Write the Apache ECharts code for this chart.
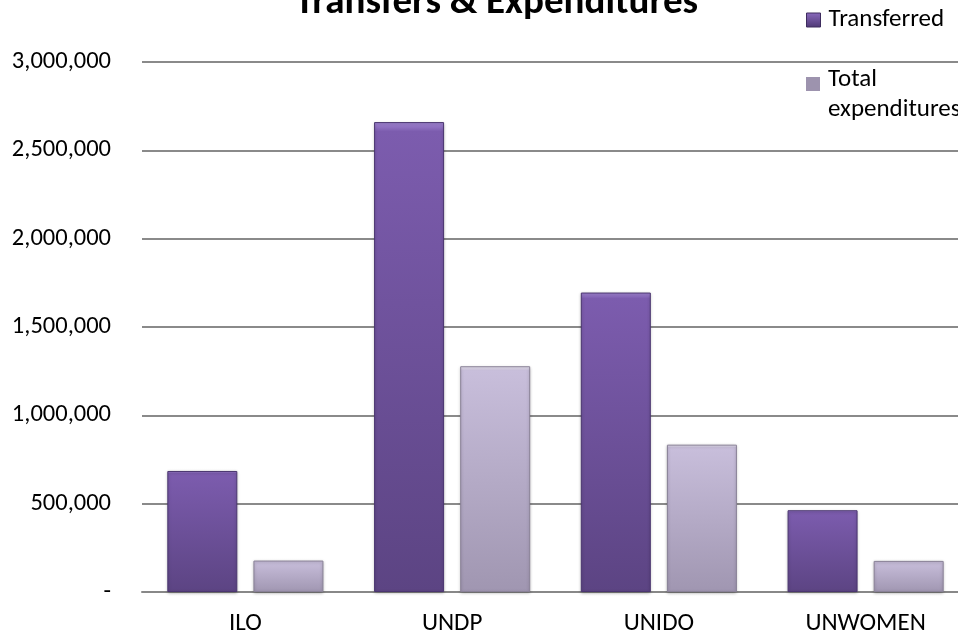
<!DOCTYPE html>
<html>
<head>
<meta charset="utf-8">
<script src="https://cdn.jsdelivr.net/npm/echarts@6/dist/echarts.min.js"></script>
<style>
html,body{margin:0;padding:0;background:#fff;overflow:hidden;}
#chart{width:969px;height:637px;}
</style>
</head>
<body>
<div id="chart"></div>
<script>
var categories = ['ILO', 'UNDP', 'UNIDO', 'UNWOMEN'];
var transferred = [685000, 2660000, 1695000, 463000];
var totalExpenditures = [178000, 1278000, 834000, 176000];
var yTicks = [0, 500000, 1000000, 1500000, 2000000, 2500000, 3000000];

var FONT = 'Carlito, Calibri, Lato, sans-serif';
var chart = echarts.init(document.getElementById('chart'), null, {renderer: 'canvas'});

function grad(c0, c1, c2) {
  return new echarts.graphic.LinearGradient(0, 0, 0, 1, [
    {offset: 0, color: c0},
    {offset: 0.02, color: c1},
    {offset: 1, color: c2}
  ]);
}
function iconGrad(c0, c1) {
  return new echarts.graphic.LinearGradient(0, 0, 0, 1, [
    {offset: 0, color: c0}, {offset: 1, color: c1}
  ]);
}

var legendText = {fontFamily: FONT, fontSize: 25, color: '#000', lineHeight: 30, padding: [0, 0, 0, 3], overflow: 'none'};

chart.setOption({
  animation: false,
  backgroundColor: '#ffffff',
  title: {
    text: 'Transfers & Expenditures',
    left: 290,
    top: -21,
    textStyle: {fontFamily: FONT, fontWeight: 'bold', fontSize: 39, color: '#000'}
  },
  legend: [
    {
      orient: 'vertical',
      left: 806,
      top: 5,
      padding: 0,
      icon: 'rect',
      itemWidth: 14,
      itemHeight: 14,
      textStyle: legendText,
      itemStyle: {color: iconGrad('#8a6abd', '#4e3874'), borderColor: '#3e2c5e', borderWidth: 1},
      data: ['Transferred']
    },
    {
      orient: 'vertical',
      left: 806,
      top: 65,
      padding: 0,
      icon: 'path://M0,0L14,0L14,14L0,14Z M0,35.95L0.05,35.95L0.05,36L0,36Z',
      itemWidth: 14,
      itemHeight: 36,
      textStyle: legendText,
      itemStyle: {color: '#9d93ae', borderWidth: 0},
      formatter: function (n) { return n.replace(' ', '\n'); },
      data: ['Total expenditures']
    }
  ],
  grid: {left: 142, top: 62, right: 0, height: 530, containLabel: false},
  xAxis: {
    type: 'category',
    data: categories,
    axisLine: {show: true, lineStyle: {color: '#888888', width: 2}},
    axisTick: {show: false},
    axisLabel: {fontFamily: FONT, fontSize: 25, color: '#000', margin: 19}
  },
  yAxis: {
    type: 'value',
    min: 0,
    max: 3000000,
    interval: 500000,
    axisLine: {show: false},
    axisTick: {show: false},
    splitLine: {lineStyle: {color: '#8a8a8a', width: 2}},
    axisLabel: {
      fontFamily: FONT, fontSize: 24.5, color: '#000', margin: 31,
      formatter: function (v) { return v === 0 ? '-' : v.toLocaleString('en-US'); }
    }
  },
  series: [
    {
      name: 'Transferred',
      type: 'bar',
      data: transferred,
      barWidth: 70,
      barGap: '23%',
      itemStyle: {
        color: grad('#a487d6', '#7c5cae', '#5c4483'),
        borderColor: '#4b3670',
        borderWidth: 1,
        shadowColor: 'rgba(0,0,0,0.25)',
        shadowBlur: 3,
        shadowOffsetY: 1
      }
    },
    {
      name: 'Total expenditures',
      type: 'bar',
      data: totalExpenditures,
      barWidth: 70,
      itemStyle: {
        color: grad('#f0ecf7', '#c8bedb', '#a096b1'),
        borderColor: '#8a8298',
        borderWidth: 1,
        shadowColor: 'rgba(0,0,0,0.25)',
        shadowBlur: 3,
        shadowOffsetY: 1
      }
    }
  ]
});
</script>
</body>
</html>
